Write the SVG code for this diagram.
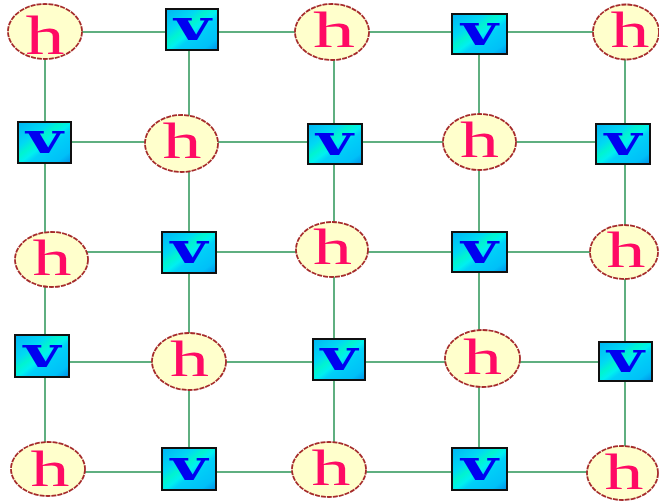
<svg xmlns="http://www.w3.org/2000/svg" width="659" height="501" viewBox="0 0 659 501">
<defs>
<linearGradient id="vg" x1="0" y1="0" x2="1" y2="1">
<stop offset="0" stop-color="#00B4F4"/>
<stop offset="0.3" stop-color="#00D8F4"/>
<stop offset="0.42" stop-color="#00F4D0"/>
<stop offset="0.52" stop-color="#00F0F0"/>
<stop offset="0.6" stop-color="#00D0F8"/>
<stop offset="0.85" stop-color="#00C0F8"/>
<stop offset="1" stop-color="#0090E8"/>
</linearGradient>
<style>
.e{stroke:#5FAF80;stroke-width:2;fill:none}
.hn ellipse{fill:#FFFFCC;stroke:#A52A2A;stroke-width:1.8;stroke-dasharray:5 1}
.hn text{font-family:"Liberation Serif",serif;font-size:50px;fill:#FF0A64;text-anchor:middle}
.vn rect{fill:url(#vg);stroke:#101010;stroke-width:2}
.vn text{font-family:"DejaVu Serif",serif;font-weight:bold;font-size:42px;fill:#0000F0;text-anchor:middle}
</style>
</defs>
<rect width="659" height="501" fill="#FFFFFF"/>
<g id="connectors">
<line class="e" x1="45" y1="32" x2="189" y2="32"/><line class="e" x1="189" y1="32" x2="334" y2="32"/><line class="e" x1="334" y1="32" x2="479" y2="32"/><line class="e" x1="479" y1="32" x2="625" y2="32"/>
<line class="e" x1="45" y1="142" x2="189" y2="142"/><line class="e" x1="189" y1="142" x2="334" y2="142"/><line class="e" x1="334" y1="142" x2="479" y2="142"/><line class="e" x1="479" y1="142" x2="625" y2="142"/>
<line class="e" x1="45" y1="252" x2="189" y2="252"/><line class="e" x1="189" y1="252" x2="334" y2="252"/><line class="e" x1="334" y1="252" x2="479" y2="252"/><line class="e" x1="479" y1="252" x2="625" y2="252"/>
<line class="e" x1="45" y1="362" x2="189" y2="362"/><line class="e" x1="189" y1="362" x2="334" y2="362"/><line class="e" x1="334" y1="362" x2="479" y2="362"/><line class="e" x1="479" y1="362" x2="625" y2="362"/>
<line class="e" x1="45" y1="472" x2="189" y2="472"/><line class="e" x1="189" y1="472" x2="334" y2="472"/><line class="e" x1="334" y1="472" x2="479" y2="472"/><line class="e" x1="479" y1="472" x2="625" y2="472"/>
<line class="e" x1="45" y1="32" x2="45" y2="142"/><line class="e" x1="45" y1="142" x2="45" y2="252"/><line class="e" x1="45" y1="252" x2="45" y2="362"/><line class="e" x1="45" y1="362" x2="45" y2="472"/>
<line class="e" x1="189" y1="32" x2="189" y2="142"/><line class="e" x1="189" y1="142" x2="189" y2="252"/><line class="e" x1="189" y1="252" x2="189" y2="362"/><line class="e" x1="189" y1="362" x2="189" y2="472"/>
<line class="e" x1="334" y1="32" x2="334" y2="142"/><line class="e" x1="334" y1="142" x2="334" y2="252"/><line class="e" x1="334" y1="252" x2="334" y2="362"/><line class="e" x1="334" y1="362" x2="334" y2="472"/>
<line class="e" x1="479" y1="32" x2="479" y2="142"/><line class="e" x1="479" y1="142" x2="479" y2="252"/><line class="e" x1="479" y1="252" x2="479" y2="362"/><line class="e" x1="479" y1="362" x2="479" y2="472"/>
<line class="e" x1="625" y1="32" x2="625" y2="142"/><line class="e" x1="625" y1="142" x2="625" y2="252"/><line class="e" x1="625" y1="252" x2="625" y2="362"/><line class="e" x1="625" y1="362" x2="625" y2="472"/>
</g>
<g id="n00" class="hn"><ellipse cx="45" cy="31.5" rx="37" ry="27.5"/><text x="45" y="54" style="font-size:55px" textLength="39" lengthAdjust="spacingAndGlyphs">h</text></g>
<g id="n10" class="vn"><rect x="166" y="9" width="52" height="41"/><text x="192.5" y="40" textLength="37" lengthAdjust="spacingAndGlyphs">v</text></g>
<g id="n20" class="hn"><ellipse cx="332" cy="32" rx="37" ry="28"/><text x="334" y="47" textLength="42" lengthAdjust="spacingAndGlyphs">h</text></g>
<g id="n30" class="vn"><rect x="452" y="14" width="55" height="40"/><text x="479.5" y="44.5" textLength="37" lengthAdjust="spacingAndGlyphs">v</text></g>
<g id="n40" class="hn"><ellipse cx="626" cy="32" rx="33" ry="27.5"/><text x="630" y="47" textLength="39" lengthAdjust="spacingAndGlyphs">h</text></g>

<g id="n01" class="vn"><rect x="18" y="122" width="53" height="41"/><text x="44.5" y="153" textLength="37" lengthAdjust="spacingAndGlyphs">v</text></g>
<g id="n11" class="hn"><ellipse cx="181.5" cy="143.5" rx="36.5" ry="28.5"/><text x="182" y="158" textLength="39" lengthAdjust="spacingAndGlyphs">h</text></g>
<g id="n21" class="vn"><rect x="308" y="124" width="54" height="40"/><text x="334.5" y="155" textLength="37" lengthAdjust="spacingAndGlyphs">v</text></g>
<g id="n31" class="hn"><ellipse cx="479.5" cy="142" rx="36.5" ry="28"/><text x="479.5" y="157" textLength="39" lengthAdjust="spacingAndGlyphs">h</text></g>
<g id="n41" class="vn"><rect x="596" y="124" width="54" height="40"/><text x="623" y="155" textLength="37" lengthAdjust="spacingAndGlyphs">v</text></g>

<g id="n02" class="hn"><ellipse cx="51.5" cy="259.5" rx="36.5" ry="27.5"/><text x="52" y="275" textLength="39" lengthAdjust="spacingAndGlyphs">h</text></g>
<g id="n12" class="vn"><rect x="162" y="232" width="54" height="41"/><text x="189" y="263" textLength="37" lengthAdjust="spacingAndGlyphs">v</text></g>
<g id="n22" class="hn"><ellipse cx="332" cy="249.5" rx="36" ry="27.5"/><text x="332.5" y="264" textLength="39" lengthAdjust="spacingAndGlyphs">h</text></g>
<g id="n32" class="vn"><rect x="452" y="232" width="55" height="40"/><text x="479.5" y="262.5" textLength="37" lengthAdjust="spacingAndGlyphs">v</text></g>
<g id="n42" class="hn"><ellipse cx="624" cy="252" rx="34" ry="27"/><text x="626" y="267" textLength="39" lengthAdjust="spacingAndGlyphs">h</text></g>

<g id="n03" class="vn"><rect x="15" y="335" width="54" height="42"/><text x="42" y="366.5" textLength="37" lengthAdjust="spacingAndGlyphs">v</text></g>
<g id="n13" class="hn"><ellipse cx="189" cy="361.5" rx="37" ry="28.5"/><text x="189.5" y="376" textLength="39" lengthAdjust="spacingAndGlyphs">h</text></g>
<g id="n23" class="vn"><rect x="313" y="339" width="52" height="41"/><text x="339" y="370" textLength="37" lengthAdjust="spacingAndGlyphs">v</text></g>
<g id="n33" class="hn"><ellipse cx="482.5" cy="358.5" rx="37.5" ry="28.5"/><text x="482.5" y="374" textLength="39" lengthAdjust="spacingAndGlyphs">h</text></g>
<g id="n43" class="vn"><rect x="599" y="342" width="53" height="39"/><text x="625.5" y="372" textLength="37" lengthAdjust="spacingAndGlyphs">v</text></g>

<g id="n04" class="hn"><ellipse cx="48" cy="469" rx="37" ry="27"/><text x="50" y="486" textLength="39" lengthAdjust="spacingAndGlyphs">h</text></g>
<g id="n14" class="vn"><rect x="162" y="448" width="54" height="42"/><text x="189" y="479.5" textLength="37" lengthAdjust="spacingAndGlyphs">v</text></g>
<g id="n24" class="hn"><ellipse cx="329" cy="469.5" rx="37" ry="27.5"/><text x="331" y="485" textLength="39" lengthAdjust="spacingAndGlyphs">h</text></g>
<g id="n34" class="vn"><rect x="452" y="448" width="55" height="42"/><text x="479.5" y="479.5" textLength="37" lengthAdjust="spacingAndGlyphs">v</text></g>
<g id="n44" class="hn"><ellipse cx="622.5" cy="473" rx="35.5" ry="27"/><text x="624" y="489" textLength="39" lengthAdjust="spacingAndGlyphs">h</text></g>
</svg>
